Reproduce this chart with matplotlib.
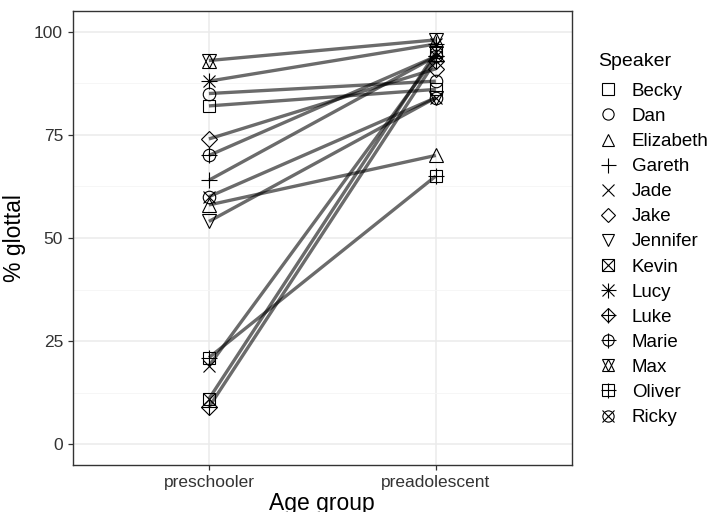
import numpy as np
import matplotlib
matplotlib.use("Agg")
import matplotlib.pyplot as plt
from matplotlib.legend_handler import HandlerTuple
from matplotlib.lines import Line2D

plt.rcParams['font.family'] = ['Liberation Sans', 'DejaVu Sans']

# Data
age_groups = ['preschooler', 'preadolescent']
speakers = ['Becky', 'Dan', 'Elizabeth', 'Gareth', 'Jade', 'Jake', 'Jennifer',
            'Kevin', 'Lucy', 'Luke', 'Marie', 'Max', 'Oliver', 'Ricky']
preschool = [82, 85, 58, 64, 19, 74, 54, 11, 88, 9, 70, 93, 21, 60]
preadolescent = [86, 88, 70, 94, 94, 91, 84, 95, 97, 93, 94, 98, 65, 84]

# marker layers per speaker (ggplot shapes 0-13)
shapes = {
    'Becky': ['s'], 'Dan': ['o'], 'Elizabeth': ['^'], 'Gareth': ['+'],
    'Jade': ['x'], 'Jake': ['D'], 'Jennifer': ['v'], 'Kevin': ['s', 'x'],
    'Lucy': ['+', 'x'], 'Luke': ['D', '+'], 'Marie': ['o', '+'],
    'Max': ['^', 'v'], 'Oliver': ['s', '+'], 'Ricky': ['o', 'x'],
}
msize = {'s': 9, 'o': 9, '^': 10, 'v': 10, '+': 12, 'x': 9, 'D': 8}

fig = plt.figure(figsize=(7.14, 5.12), dpi=100)
ax = fig.add_axes([0.102, 0.092, 0.699, 0.8865])

xpos = np.arange(len(age_groups)) + 1
handles = []
for i, sp in enumerate(speakers):
    yv = [preschool[i], preadolescent[i]]
    layers = []
    for m in shapes[sp]:
        ax.plot(xpos, yv, marker=m, linestyle='none', ms=msize[m],
                mfc='none', mec='black', mew=0.8, zorder=3)
        layers.append(Line2D([], [], marker=m, linestyle='none', ms=msize[m] * 0.9,
                             mfc='none', mec='black', mew=0.8))
    ax.plot(xpos, yv, color='black', alpha=0.58, lw=2.4,
            solid_capstyle='butt', zorder=4)
    handles.append(tuple(layers))

ax.set_xlim(0.4, 2.6)
ax.set_ylim(-5, 105)
ax.set_xticks(xpos)
ax.set_xticklabels(age_groups)
ax.set_yticks([0, 25, 50, 75, 100])
ax.set_yticks([12.5, 37.5, 62.5, 87.5], minor=True)
ax.grid(True, which='major', color='#EBEBEB', lw=1.1, zorder=0)
ax.grid(True, which='minor', axis='y', color='#F5F5F5', lw=0.6, zorder=0)
ax.set_axisbelow(True)
for s in ax.spines.values():
    s.set_color('#333333')
    s.set_linewidth(1.0)
ax.tick_params(axis='both', which='major', labelsize=12.5, labelcolor='#333333',
               color='#333333', length=3.5, width=0.9)
ax.tick_params(axis='both', which='minor', length=0)
ax.set_xlabel('Age group', fontsize=16.5, labelpad=2)
ax.set_ylabel('% glottal', fontsize=16.5, labelpad=6)

leg = fig.legend(handles, speakers, title='Speaker', loc='upper left',
                 bbox_to_anchor=(0.827, 0.912), frameon=False, fontsize=13.5,
                 title_fontsize=14, labelspacing=0.425, handlelength=1.1,
                 handletextpad=0.7, borderaxespad=0,
                 handler_map={tuple: HandlerTuple(ndivide=1, pad=0)})
leg._legend_box.align = 'left'
leg._legend_box.sep = 9.5  # extra gap between title and keys

fig.savefig('out.png', dpi=100)
